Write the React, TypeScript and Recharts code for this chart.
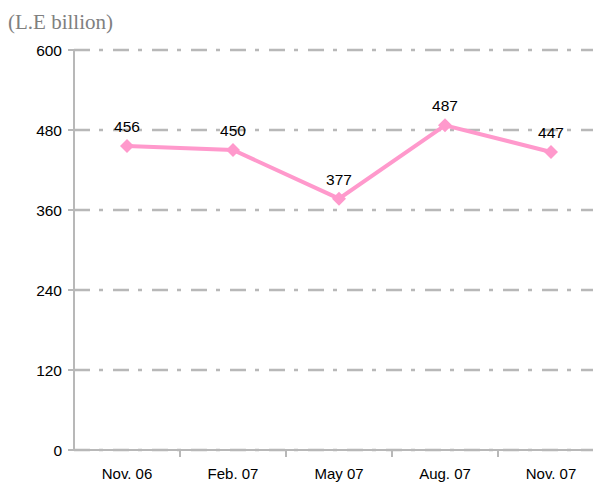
import { LineChart, Line, XAxis, YAxis, CartesianGrid, LabelList } from 'recharts';

const periods = ['Nov. 06', 'Feb. 07', 'May 07', 'Aug. 07', 'Nov. 07'];
const values = [456, 450, 377, 487, 447];
const yTicks = [0, 120, 240, 360, 480, 600];

const data = periods.map((p, i) => ({ period: p, value: values[i] }));

const W = 620;
const H = 482;
const Y_W = 74;
const M_RIGHT = 16;
const BAND = (W - Y_W - M_RIGHT) / periods.length;

const AXIS = '#b8b8b8';
const FONT = '"Liberation Sans", Arial, sans-serif';

// category label at band centre, tick mark on the band edge
const PeriodTick = (props: any) => {
  const { x, y, payload, index } = props;
  const edge = x + BAND / 2;
  return (
    <g>
      {index < periods.length - 1 && (
        <line x1={edge} y1={y - 1} x2={edge} y2={y + 5} stroke={AXIS} strokeWidth={2} />
      )}
      <text x={x} y={y + 23} textAnchor="middle" dominantBaseline="middle"
            fontSize={15} fontFamily={FONT} fill="#000">
        {payload.value}
      </text>
    </g>
  );
};

const Diamond = (props: any) => {
  const { cx, cy } = props;
  const r = 7;
  return (
    <path d={`M${cx},${cy - r}L${cx + r},${cy}L${cx},${cy + r}L${cx - r},${cy}Z`}
          fill="#ff99cc" stroke="none" />
  );
};

export default function App() {
  return (
    <div style={{ position: 'relative', width: 601, height: H, overflow: 'hidden', margin: '-8px 0 0 -8px' }}>
      <div style={{ position: 'absolute', left: 8, top: 9, fontFamily: '"Liberation Serif", serif',
                    fontSize: 21, lineHeight: '26px', color: '#808080' }}>
        (L.E billion)
      </div>
      <LineChart width={W} height={H} data={data}
                 margin={{ top: 50, right: M_RIGHT, left: 0, bottom: 2 }}>
        <CartesianGrid vertical={false} stroke={AXIS} strokeWidth={2.5} strokeDasharray="16 9 4 10" />
        <XAxis dataKey="period" height={30} tickSize={0} tickLine={false}
               padding={{ left: BAND / 2, right: BAND / 2 }}
               axisLine={{ stroke: AXIS, strokeWidth: 2 }} tick={<PeriodTick />} interval={0} />
        <YAxis width={Y_W} domain={[0, 600]} ticks={yTicks} tickSize={6} tickMargin={6}
               axisLine={{ stroke: AXIS, strokeWidth: 2 }} tickLine={{ stroke: AXIS, strokeWidth: 2 }}
               tick={{ fontSize: 15.5, fontFamily: FONT, fill: '#000' }} />
        <Line dataKey="value" stroke="#ff99cc" strokeWidth={4} dot={<Diamond />}
              activeDot={false} isAnimationActive={false}>
          <LabelList dataKey="value" position="top" offset={14}
                     style={{ fontSize: 15.5, fontFamily: FONT, fill: '#000' }} />
        </Line>
      </LineChart>
    </div>
  );
}
